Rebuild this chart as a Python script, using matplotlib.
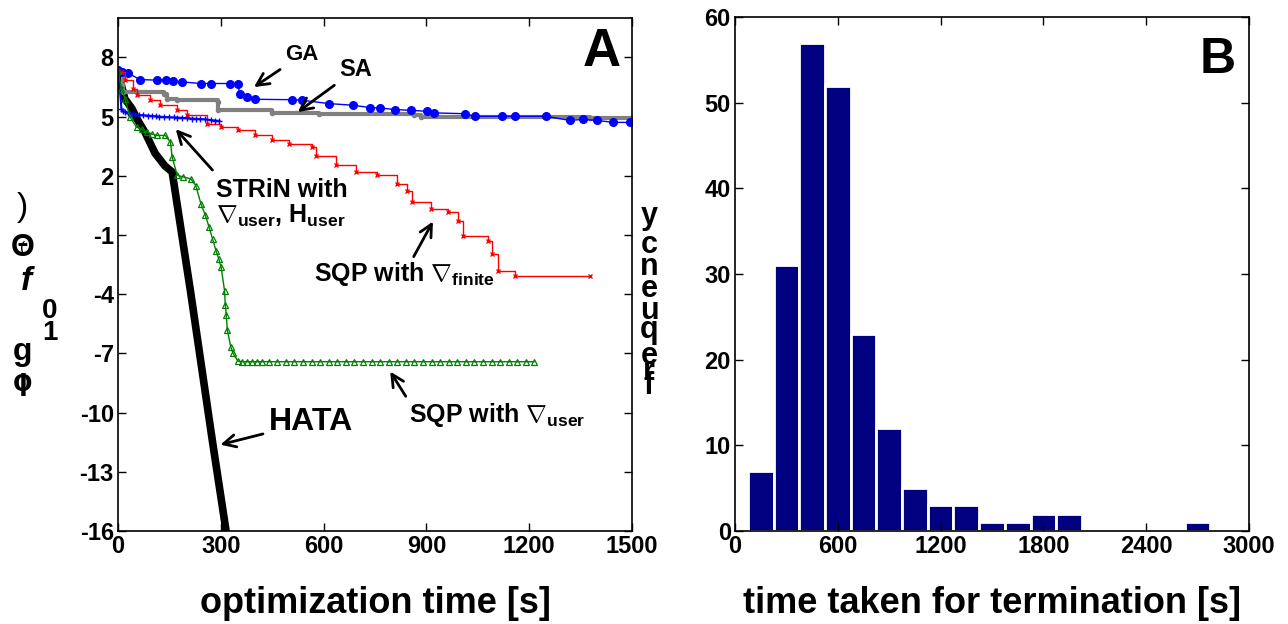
import matplotlib
matplotlib.use("Agg")
import matplotlib.pyplot as plt

plt.rcParams["font.family"] = ["Liberation Sans", "DejaVu Sans"]
plt.rcParams["font.weight"] = "bold"
plt.rcParams["axes.unicode_minus"] = False
plt.rcParams["mathtext.fontset"] = "custom"
plt.rcParams["mathtext.rm"] = "Liberation Sans:bold"
plt.rcParams["mathtext.bf"] = "Liberation Sans:bold"
plt.rcParams["mathtext.it"] = "Liberation Sans:bold:italic"

# ---------------------------------------------------------------------------
# Panel A: objective value vs optimization time
# ---------------------------------------------------------------------------
ga_t = [0, 12, 30, 64, 113, 140, 160, 187, 242, 270, 326, 350, 355, 375, 400,
        508, 538, 617, 686, 735, 765, 809, 854, 903, 923, 1012, 1041, 1120,
        1160, 1249, 1318, 1357, 1397, 1446, 1495]
ga_f = [7.35, 7.27, 7.2, 6.88, 6.85, 6.85, 6.82, 6.76, 6.68, 6.68, 6.68, 6.65,
        6.14, 6.0, 5.88, 5.86, 5.83, 5.66, 5.58, 5.46, 5.44, 5.36, 5.32, 5.27,
        5.19, 5.15, 5.02, 5.02, 5.02, 5.02, 4.81, 4.86, 4.81, 4.71, 4.71]

sa_t = [0, 15, 133, 143, 173, 291, 293, 449, 587, 864, 883, 1377, 1500]
sa_f = [7.35, 6.25, 6.17, 5.92, 5.83, 5.75, 5.32, 5.19, 5.15, 5.07, 4.98,
        4.95, 4.95]

sqpf_t = [0, 10, 20, 44, 54, 94, 123, 173, 202, 261, 300, 350, 400, 449, 498,
          567, 577, 636, 696, 755, 814, 844, 859, 913, 962, 992, 1007, 1080,
          1090, 1110, 1160, 1377]
sqpf_f = [7.3, 7.27, 6.85, 6.42, 6.08, 5.83, 5.58, 5.32, 5.07, 4.64, 4.5,
          4.31, 4.05, 3.8, 3.63, 3.46, 3.03, 2.53, 2.19, 2.02, 1.59, 1.25,
          0.66, 0.32, 0.15, -0.27, -1.03, -1.29, -1.97, -2.81, -3.07, -3.07]

strin_t = [0, 5, 10, 15, 20, 28, 35, 42, 50, 60, 74, 87, 100, 110, 120, 135,
           150, 162, 173, 187, 200, 215, 228, 240, 255, 270, 283, 296]
strin_f = [7.3, 6.5, 5.4, 5.3, 5.25, 5.2, 5.15, 5.12, 5.1, 5.08, 5.07, 5.05,
           5.03, 5.02, 5.0, 4.98, 4.97, 4.96, 4.95, 4.94, 4.92, 4.9, 4.89,
           4.88, 4.86, 4.83, 4.8, 4.78]

sqpu_t = [0, 10, 20, 35, 54, 70, 84, 100, 113, 138, 153, 158, 173, 190, 212,
          227, 242, 255, 266, 276, 286, 294, 301, 311, 313, 316, 319, 329,
          336, 350, 362, 375, 390, 405, 420, 440, 465, 490, 515, 540, 565,
          590, 615, 640, 665, 690, 715, 740, 765, 790, 815, 840, 865, 890,
          915, 940, 965, 990, 1015, 1040, 1065, 1090, 1115, 1140, 1165, 1190,
          1214]
sqpu_f = [7.3, 6.42, 5.92, 4.98, 4.47, 4.35, 4.22, 4.12, 4.05, 4.05, 3.71,
          2.95, 2.02, 1.95, 1.85, 1.51, 0.58, 0.0, -0.61, -1.2, -1.8, -2.2,
          -2.64, -3.83, -4.54, -5.05, -5.81, -6.66, -7.0, -7.39, -7.42, -7.42,
          -7.42, -7.42, -7.42, -7.42, -7.42, -7.42, -7.42, -7.42, -7.42,
          -7.42, -7.42, -7.42, -7.42, -7.42, -7.42, -7.42, -7.42, -7.42,
          -7.42, -7.42, -7.42, -7.42, -7.42, -7.42, -7.42, -7.42, -7.42,
          -7.42, -7.42, -7.42, -7.42, -7.42, -7.42, -7.42, -7.42]

hata_t = [4, 20, 41, 55, 79, 108, 137, 158, 212, 276, 318]
hata_f = [7.0, 5.9, 5.4, 4.9, 4.2, 3.15, 2.5, 2.2, -3.9, -11.5, -16.3]

# ---------------------------------------------------------------------------
# Panel B: histogram of termination times
# ---------------------------------------------------------------------------
bin_centers = [150, 300, 450, 600, 750, 900, 1050, 1200, 1350, 1500, 1650,
               1800, 1950, 2700]
bin_counts = [7, 31, 57, 52, 23, 12, 5, 3, 3, 1, 1, 2, 2, 1]

W, H = 1288, 624


def px(x, y):
    return x / W, 1 - y / H


fig = plt.figure(figsize=(W / 100, H / 100), dpi=100)
ax1 = fig.add_axes([118 / W, 1 - 531 / H, 514 / W, 513 / H])
ax2 = fig.add_axes([735 / W, 1 - 531 / H, 514 / W, 514 / H])

# --- panel A lines (HATA first so the others sit on top of it)
ax1.plot(hata_t, hata_f, "-", color="black", lw=5.5, solid_capstyle="round")
ax1.plot(sa_t, sa_f, "-", color="#808080", lw=3, marker=".", ms=6,
         drawstyle="steps-post")
ax1.plot(ga_t, ga_f, "-", color="blue", lw=1, marker=".", ms=11)
ax1.plot(sqpf_t, sqpf_f, "-", color="red", lw=1, marker="x", ms=3,
         drawstyle="steps-post")
ax1.plot(strin_t, strin_f, "-", color="blue", lw=1.5, marker="+", ms=5)
ax1.plot(sqpu_t, sqpu_f, "-", color="#008000", lw=1, marker="^", ms=5,
         mfc="none", mew=0.9)

ax1.set_xlim(0, 1500)
ax1.set_ylim(-16, 10)
ax1.set_xticks([0, 300, 600, 900, 1200, 1500])
ax1.set_yticks([8, 5, 2, -1, -4, -7, -10, -13, -16])
ax1.set_xlabel("optimization time [s]", fontsize=26, fontweight="bold",
               labelpad=20)

arrow = dict(arrowstyle="->", color="black", lw=2, mutation_scale=22)
ax1.annotate("GA", xy=(390, 6.42), xytext=(488, 7.6), fontsize=16,
             fontweight="bold", ha="left", va="bottom", arrowprops=arrow)
ax1.annotate("SA", xy=(518, 5.15), xytext=(646, 6.8), fontsize=17,
             fontweight="bold", ha="left", va="bottom", arrowprops=arrow)
ax1.annotate("", xy=(163, 4.47), xytext=(281, 2.19), arrowprops=arrow)
ax1.text(286, 1.3, "STRiN with", fontsize=18, fontweight="bold",
         ha="left", va="center")
ax1.text(286, -0.05, r"$\nabla_{\rm user}$, H$_{\rm user}$", fontsize=18,
         fontweight="bold", ha="left", va="center")
ax1.annotate("", xy=(923, -0.19), xytext=(859, -2.22), arrowprops=arrow)
ax1.text(572, -3.0, r"SQP with $\nabla_{\rm finite}$", fontsize=18,
         fontweight="bold", ha="left", va="center")
ax1.annotate("", xy=(790, -7.8), xytext=(844, -9.29), arrowprops=arrow)
ax1.text(849, -10.1, r"SQP with $\nabla_{\rm user}$", fontsize=18,
         fontweight="bold", ha="left", va="center")
ax1.annotate("HATA", xy=(291, -11.66), xytext=(439, -10.47), fontsize=23,
             fontweight="bold", ha="left", va="center", arrowprops=arrow)
ax1.text(1411, 8.3, "A", fontsize=38, fontweight="bold", ha="center",
         va="center")

# --- panel B histogram
ax2.bar(bin_centers, bin_counts, width=150, color="#000080",
        edgecolor="white", linewidth=2)
ax2.set_xlim(0, 3000)
ax2.set_ylim(0, 60)
ax2.set_xticks([0, 600, 1200, 1800, 2400, 3000])
ax2.set_yticks([0, 10, 20, 30, 40, 50, 60])
ax2.set_xlabel("time taken for termination [s]", fontsize=26,
               fontweight="bold", labelpad=20)
ax2.text(2820, 55, "B", fontsize=36, fontweight="bold", ha="center",
         va="center")

for ax in (ax1, ax2):
    ax.tick_params(direction="in", top=True, right=True, length=6, width=1,
                   labelsize=17, pad=3)
    for lab in ax.get_xticklabels() + ax.get_yticklabels():
        lab.set_fontweight("bold")
    for sp in ax.spines.values():
        sp.set_linewidth(1.2)

# --- misplaced stacked y labels as in the reference
left_label = [
    (")", 22, 208, 24, "normal", "normal"),
    ("\u0398", 23, 248, 22, "bold", "normal"),
    ("(", 23, 248, 11, "normal", "normal"),
    ("f", 26, 282, 24, "bold", "italic"),
    ("0", 50, 311, 20, "bold", "normal"),
    ("1", 50, 333, 20, "bold", "normal"),
    ("g", 23, 352, 23, "bold", "normal"),
    ("o", 23, 383, 23, "bold", "normal"),
    ("l", 23, 388, 23, "bold", "normal"),
]
for ch, x, y, size, weight, style in left_label:
    fx, fy = px(x, y)
    fig.text(fx, fy, ch, fontsize=size, fontweight=weight, fontstyle=style,
             ha="center", va="center")

right_label = [("y", 216), ("c", 245), ("n", 267), ("e", 289), ("u", 311),
               ("q", 330), ("e", 356), ("r", 372), ("f", 386)]
for ch, y in right_label:
    fx, fy = px(649, y)
    fig.text(fx, fy, ch, fontsize=22, fontweight="bold", ha="center",
             va="center")

fig.savefig("out.png", dpi=100)
